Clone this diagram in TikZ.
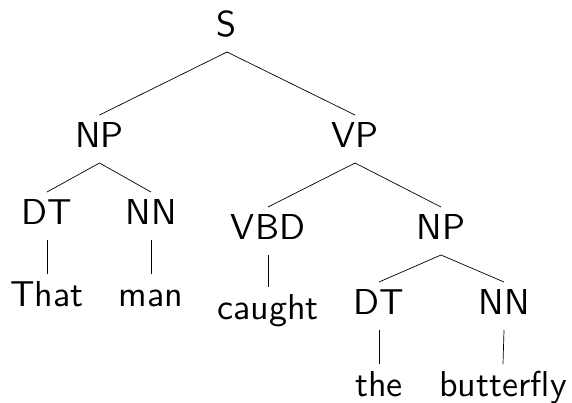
\documentclass[tikz,border=0pt]{standalone}
\newcommand{\tw}[1]{\scalebox{3.6}{\sffamily #1}}
\begin{document}
\begin{tikzpicture}[x=1pt,y=-1pt,
  lab/.style={inner sep=0pt,outer sep=0pt,text height=32pt,text depth=16pt,anchor=base,
    font=\sffamily\fontsize{10}{12}\selectfont},
  edge/.style={draw,line width=0.7pt}]
\useasboundingbox (0,0) rectangle (572,402);
\node[lab] (S) at (227,36) {\tw{S}};
\node[lab] (NP1) at (99.5,147) {\tw{NP}};
\node[lab] (VP) at (355,147) {\tw{VP}};
\node[lab] (DT1) at (47,224) {\tw{DT}};
\node[lab] (NN1) at (151,224) {\tw{NN}};
\node[lab] (VBD) at (268,239) {\tw{VBD}};
\node[lab] (NP2) at (441,239) {\tw{NP}};
\node[lab] (w1) at (47,306) {\tw{That}};
\node[lab] (w2) at (151,306) {\tw{man}};
\node[lab] (w3) at (268,319) {\tw{caught}};
\node[lab] (DT2) at (379,314) {\tw{DT}};
\node[lab] (NN2) at (504,314) {\tw{NN}};
\node[lab] (w4) at (379,396) {\tw{the}};
\node[lab] (w5) at (503,396) {\tw{butterfly}};
\draw[edge] (S.south) -- (NP1.north);
\draw[edge] (S.south) -- (VP.north);
\draw[edge] (NP1.south) -- (DT1.north);
\draw[edge] (NP1.south) -- (NN1.north);
\draw[edge] (VP.south) -- (VBD.north);
\draw[edge] (VP.south) -- (NP2.north);
\draw[edge] (DT1.south) -- (w1.north);
\draw[edge] (NN1.south) -- (w2.north);
\draw[edge] (VBD.south) -- (w3.north);
\draw[edge] (NP2.south) -- (DT2.north);
\draw[edge] (NP2.south) -- (NN2.north);
\draw[edge] (DT2.south) -- (w4.north);
\draw[edge] (NN2.south) -- (w5.north);
\end{tikzpicture}
\end{document}
